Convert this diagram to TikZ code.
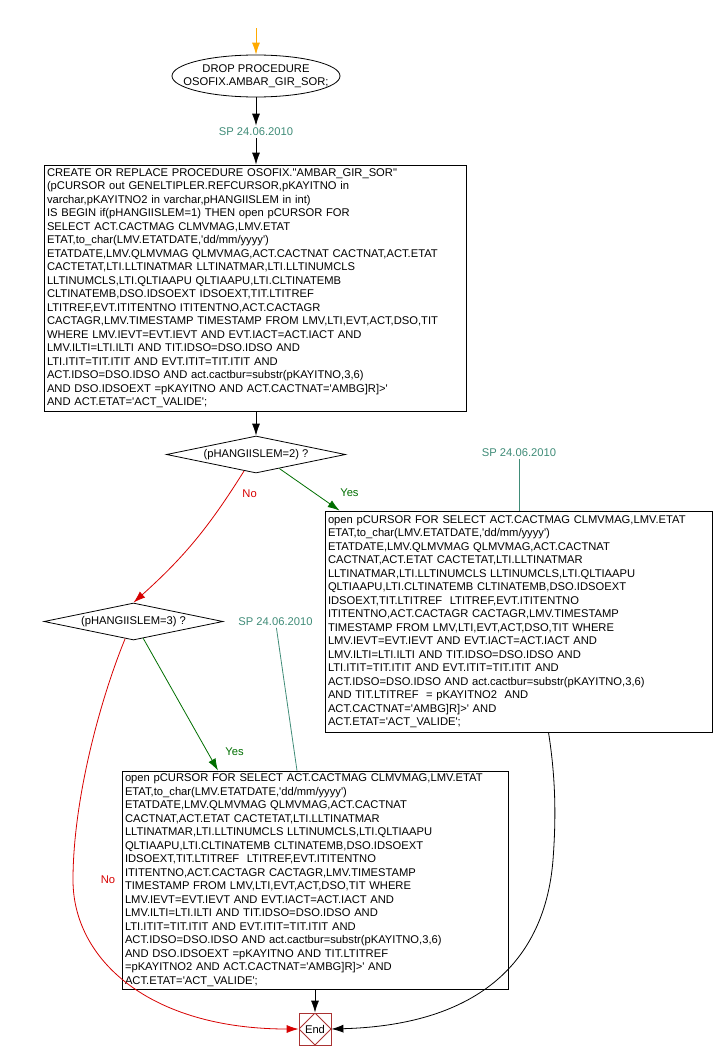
\documentclass[tikz,border=0pt]{standalone}
\usepackage{fontspec}
\newfontfamily\flowfont{Liberation Sans}
\usetikzlibrary{arrows.meta,positioning,shapes.geometric}
\definecolor{notegreen}{RGB}{64,140,120}
\definecolor{yesgreen}{RGB}{0,110,0}
\definecolor{nored}{RGB}{215,0,0}
\definecolor{endred}{RGB}{170,50,50}
\definecolor{startorange}{RGB}{255,170,0}
\begin{document}
\begin{tikzpicture}[x=1pt,y=-1pt,>=Latex,line width=0.8pt,
  font=\flowfont\fontsize{11.2}{13.5}\selectfont,
  sqlbox/.style={draw,align=left,inner xsep=3pt,inner ysep=0pt},
  decide/.style={draw,diamond,aspect=5,inner sep=0pt,minimum width=179pt,minimum height=37pt},
  spnote/.style={text=notegreen,inner sep=2pt},
  yeslbl/.style={text=yesgreen,inner sep=1pt},
  nolbl/.style={text=nored,inner sep=1pt},
  flow/.style={-{Latex[length=12pt,width=8pt]}}]
\useasboundingbox (0,0) rectangle (713,1060);
\coordinate (q0) at (256,28);
\node[draw,ellipse,minimum width=168pt,minimum height=42pt,inner sep=0pt,align=center] (drop) at (256,76) {\makebox[0pt]{DROP PROCEDURE}\\\makebox[0pt]{OSOFIX.AMBAR\_GIR\_SOR;}};
\draw[flow,startorange] (q0) -- (drop.north);
\node[spnote] (sp1) at (256,132) {SP 24.06.2010};
\draw[flow] (drop) -- (sp1);
\node[sqlbox,minimum width=422pt,minimum height=246pt,text width=416pt] (b1) at (255,288) {CREATE OR REPLACE PROCEDURE OSOFIX."AMBAR\_GIR\_SOR"\\
(pCURSOR out GENELTIPLER.REFCURSOR,pKAYITNO in\\
varchar,pKAYITNO2 in varchar,pHANGIISLEM in int)\\
IS BEGIN if(pHANGIISLEM=1) THEN open pCURSOR FOR\\
SELECT ACT.CACTMAG CLMVMAG,LMV.ETAT\\
ETAT,to\_char(LMV.ETATDATE,'dd/mm/yyyy')\\
ETATDATE,LMV.QLMVMAG QLMVMAG,ACT.CACTNAT CACTNAT,ACT.ETAT\\
CACTETAT,LTI.LLTINATMAR LLTINATMAR,LTI.LLTINUMCLS\\
LLTINUMCLS,LTI.QLTIAAPU QLTIAAPU,LTI.CLTINATEMB\\
CLTINATEMB,DSO.IDSOEXT IDSOEXT,TIT.LTITREF\\
LTITREF,EVT.ITITENTNO ITITENTNO,ACT.CACTAGR\\
CACTAGR,LMV.TIMESTAMP TIMESTAMP FROM LMV,LTI,EVT,ACT,DSO,TIT\\
WHERE LMV.IEVT=EVT.IEVT AND EVT.IACT=ACT.IACT AND\\
LMV.ILTI=LTI.ILTI AND TIT.IDSO=DSO.IDSO AND\\
LTI.ITIT=TIT.ITIT AND EVT.ITIT=TIT.ITIT AND\\
ACT.IDSO=DSO.IDSO AND act.cactbur=substr(pKAYITNO,3,6)\\
AND DSO.IDSOEXT =pKAYITNO AND ACT.CACTNAT='AMBG]R]>'\\
AND ACT.ETAT='ACT\_VALIDE';};
\draw[flow] (sp1) -- (sp1 |- b1.north);
\node[decide] (d1) at (256,454.5) {(pHANGIISLEM=2) ?};
\draw[flow] (b1.south -| d1.north) -- (d1.north);
\node[spnote] (sp2) at (519,453) {SP 24.06.2010};
\node[sqlbox,minimum width=387pt,minimum height=221pt,text width=381pt] (b2) at (518.5,621.5) {open pCURSOR FOR SELECT ACT.CACTMAG CLMVMAG,LMV.ETAT\\
ETAT,to\_char(LMV.ETATDATE,'dd/mm/yyyy')\\
ETATDATE,LMV.QLMVMAG QLMVMAG,ACT.CACTNAT\\
CACTNAT,ACT.ETAT CACTETAT,LTI.LLTINATMAR\\
LLTINATMAR,LTI.LLTINUMCLS LLTINUMCLS,LTI.QLTIAAPU\\
QLTIAAPU,LTI.CLTINATEMB CLTINATEMB,DSO.IDSOEXT\\
IDSOEXT,TIT.LTITREF\ \ LTITREF,EVT.ITITENTNO\\
ITITENTNO,ACT.CACTAGR CACTAGR,LMV.TIMESTAMP\\
TIMESTAMP FROM LMV,LTI,EVT,ACT,DSO,TIT WHERE\\
LMV.IEVT=EVT.IEVT AND EVT.IACT=ACT.IACT AND\\
LMV.ILTI=LTI.ILTI AND TIT.IDSO=DSO.IDSO AND\\
LTI.ITIT=TIT.ITIT AND EVT.ITIT=TIT.ITIT AND\\
ACT.IDSO=DSO.IDSO AND act.cactbur=substr(pKAYITNO,3,6)\\
AND TIT.LTITREF\ \ = pKAYITNO2\ \ AND\\
ACT.CACTNAT='AMBG]R]>' AND\\
ACT.ETAT='ACT\_VALIDE';};
\draw[notegreen] (sp2) -- (sp2 |- b2.north);
\node[decide] (d2) at (133.5,621.5) {(pHANGIISLEM=3) ?};
\node[spnote] (sp3) at (275.5,621.5) {SP 24.06.2010};
\draw[flow,yesgreen] (d1.-31) -- node[yeslbl,pos=0.5,xshift=40pt,yshift=-3pt] {Yes} ([xshift=15pt]b2.north west);
\draw[flow,nored] (d1.-126) to[bend left=8] node[nolbl,pos=0.17,xshift=23pt,yshift=4pt] {No} (d2.north);
\node[sqlbox,minimum width=386pt,minimum height=218pt,text width=380pt] (b3) at (315,880) {open pCURSOR FOR SELECT ACT.CACTMAG CLMVMAG,LMV.ETAT\\
ETAT,to\_char(LMV.ETATDATE,'dd/mm/yyyy')\\
ETATDATE,LMV.QLMVMAG QLMVMAG,ACT.CACTNAT\\
CACTNAT,ACT.ETAT CACTETAT,LTI.LLTINATMAR\\
LLTINATMAR,LTI.LLTINUMCLS LLTINUMCLS,LTI.QLTIAAPU\\
QLTIAAPU,LTI.CLTINATEMB CLTINATEMB,DSO.IDSOEXT\\
IDSOEXT,TIT.LTITREF\ \ LTITREF,EVT.ITITENTNO\\
ITITENTNO,ACT.CACTAGR CACTAGR,LMV.TIMESTAMP\\
TIMESTAMP FROM LMV,LTI,EVT,ACT,DSO,TIT WHERE\\
LMV.IEVT=EVT.IEVT AND EVT.IACT=ACT.IACT AND\\
LMV.ILTI=LTI.ILTI AND TIT.IDSO=DSO.IDSO AND\\
LTI.ITIT=TIT.ITIT AND EVT.ITIT=TIT.ITIT AND\\
ACT.IDSO=DSO.IDSO AND act.cactbur=substr(pKAYITNO,3,6)\\
AND DSO.IDSOEXT =pKAYITNO AND TIT.LTITREF\\
=pKAYITNO2 AND ACT.CACTNAT='AMBG]R]>' AND\\
ACT.ETAT='ACT\_VALIDE';};
\draw[notegreen] (sp3) -- ([xshift=-18pt]b3.north);
\draw[flow,yesgreen] (d2.-60) -- node[yeslbl,pos=0.86,xshift=27pt] {Yes} ([xshift=-97pt]b3.north);
\node[draw=endred,minimum size=32pt,inner sep=0pt,path picture={\draw[endred] (path picture bounding box.north) -- (path picture bounding box.east) -- (path picture bounding box.south) -- (path picture bounding box.west) -- cycle;}] (fin) at (315,1029) {End};
\draw[flow] (b3.south) -- (fin.north);
\draw[flow,nored] (d2.-116) .. controls (100,700) and (73,800) .. (73,880) node[nolbl,xshift=35pt] {No} .. controls (73,960) and (150,1029) .. (fin.west);
\draw[flow] ([xshift=30pt]b2.south) .. controls (556,780) and (556,820) .. (553,860) .. controls (545,960) and (480,1025) .. (fin.east);
\end{tikzpicture}
\end{document}
